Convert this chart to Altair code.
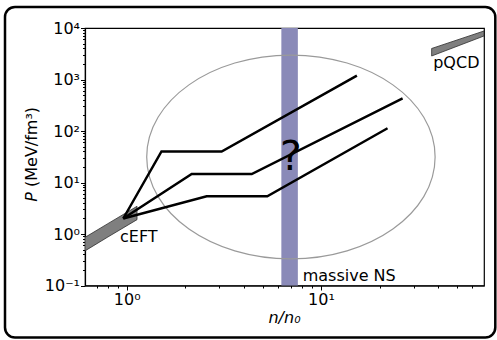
import altair as alt
import pandas as pd

# Equation-of-state scenarios: knots in density (n/n0) and pressure (MeV/fm^3)
eos_names = ["stiff", "intermediate", "soft"]
eos_n = [
    [0.96, 1.51, 3.08, 15.3],
    [0.96, 2.16, 4.4, 26.3],
    [0.96, 2.58, 5.29, 22.0],
]
eos_p = [
    [2.0, 40.0, 40.0, 1190.0],
    [2.0, 14.6, 14.6, 431.0],
    [2.0, 5.4, 5.4, 113.0],
]

# chiral EFT band at low density
ceft_n = [0.61, 0.8, 1.13]
ceft_lo = [0.47, 0.875, 1.9]
ceft_hi = [0.86, 1.59, 3.45]

# perturbative QCD band at high density
pqcd_n = [37.1, 69.0]
pqcd_lo = [2860, 7000]
pqcd_hi = [4000, 8750]

# central densities of the heaviest neutron stars
ns_band = [6.25, 7.6]

# centre of the "unknown" region
region_center = [7.0, 31.3]

# annotations
labels = ["cEFT", "pQCD", "massive NS"]
label_n = [0.924, 37.8, 8.05]
label_p = [0.69, 1650, 0.122]
question_n = [7.0]
question_p = [17.5]

W, H = 399, 257.5
FONT = "DejaVu Sans"

x_ticks = [0.7, 0.8, 0.9] + list(range(1, 10)) + [10, 20, 30, 40, 50, 60]
y_ticks = [round(k * 10.0 ** e, 6) for e in range(-1, 4) for k in range(1, 10)] + [10000]

x_scale = alt.Scale(type="log", domain=[0.61, 69.0], nice=False)
y_scale = alt.Scale(type="log", domain=[0.1, 10000], nice=False)

x_axis = alt.Axis(
    title=None, values=x_ticks, grid=False,
    labelExpr="datum.value == 1 ? '10⁰' : datum.value == 10 ? '10¹' : ''",
    tickSize={"condition": {"test": "indexof([1, 10], datum.value) >= 0", "value": 4.5}, "value": 2.5},
    labelPadding=1, labelBaseline="top",
)
y_axis = alt.Axis(
    title=None, values=y_ticks, grid=False,
    labelExpr=("datum.value == 10000 ? '10⁴' : datum.value == 1000 ? '10³' : "
               "datum.value == 100 ? '10²' : datum.value == 10 ? '10¹' : "
               "datum.value == 1 ? '10⁰' : datum.value == 0.1 ? '10⁻¹' : ''"),
    tickSize={"condition": {"test": "indexof([0.1, 1, 10, 100, 1000, 10000], datum.value) >= 0",
                            "value": 4.5}, "value": 2.5},
    labelPadding=1, labelBaseline="middle",
)


def X(field):
    return alt.X(field, type="quantitative", scale=x_scale, axis=x_axis)


def Y(field):
    return alt.Y(field, type="quantitative", scale=y_scale, axis=y_axis)


eos_rows = []
for name, ns, ps in zip(eos_names, eos_n, eos_p):
    for i, (n, p) in enumerate(zip(ns, ps)):
        eos_rows.append({"eos": name, "order": i, "n": n, "P": p})
eos_df = pd.DataFrame(eos_rows)

ceft_df = pd.DataFrame({"n": ceft_n, "P": ceft_lo, "P2": ceft_hi})
pqcd_df = pd.DataFrame({"n": pqcd_n, "P": pqcd_lo, "P2": pqcd_hi})
band_df = pd.DataFrame({"n": [ns_band[0]], "n2": [ns_band[1]]})
region_df = pd.DataFrame({"n": [region_center[0]], "P": [region_center[1]]})
label_df = pd.DataFrame({"n": label_n, "P": label_p, "text": labels})
q_df = pd.DataFrame({"n": question_n, "P": question_p, "text": ["?"]})

band = alt.Chart(band_df).mark_rect(color="#8a8ab8").encode(x=X("n"), x2="n2")

# ellipse outline as a custom symbol (unit path, aspect ~0.707)
ellipse_path = (
    "M 1 0 C 1 0.3906 0.5523 0.707 0 0.707 C -0.5523 0.707 -1 0.3906 -1 0 "
    "C -1 -0.3906 -0.5523 -0.707 0 -0.707 C 0.5523 -0.707 1 -0.3906 1 0 Z"
)
region = alt.Chart(region_df).mark_point(
    shape=ellipse_path, size=83174, filled=False, stroke="#9a9a9a", strokeWidth=1.2, opacity=1
).encode(x=X("n"), y=Y("P"))

ceft = alt.Chart(ceft_df).mark_area(
    fill="#7f7f7f", stroke="#303030", strokeWidth=0.8, clip=True
).encode(x=X("n"), y=Y("P"), y2="P2")

pqcd = alt.Chart(pqcd_df).mark_area(
    fill="#7f7f7f", stroke="#303030", strokeWidth=0.8, clip=True
).encode(x=X("n"), y=Y("P"), y2="P2")

lines = alt.Chart(eos_df).mark_line(color="black", strokeWidth=2.5, clip=True).encode(
    x=X("n"), y=Y("P"), detail="eos:N", order="order:Q"
)

text = alt.Chart(label_df).mark_text(
    font=FONT, fontSize=16, color="black", align="left", baseline="alphabetic"
).encode(x=X("n"), y=Y("P"), text="text:N")

question = alt.Chart(q_df).mark_text(
    font=FONT, fontSize=41, color="black", align="center", baseline="alphabetic"
).encode(x=X("n"), y=Y("P"), text="text:N")

one = pd.DataFrame({"t": [""]})
y_title_p = alt.Chart(pd.DataFrame({"t": ["P"]})).mark_text(
    font=FONT, fontSize=16, fontStyle="italic", angle=270, align="left", baseline="alphabetic",
    color="black"
).encode(x=alt.value(-48.3), y=alt.value(173.7), text="t:N")
y_title_rest = alt.Chart(pd.DataFrame({"t": ["(MeV/fm³)"]})).mark_text(
    font=FONT, fontSize=16, angle=270, align="left", baseline="alphabetic", color="black"
).encode(x=alt.value(-48.3), y=alt.value(159), text="t:N")
x_title = alt.Chart(pd.DataFrame({"t": ["n/n₀"]})).mark_text(
    font=FONT, fontSize=16, fontStyle="italic", align="center", baseline="alphabetic",
    color="black"
).encode(x=alt.value(W / 2), y=alt.value(295), text="t:N")

frame = alt.Chart(one).mark_rect(
    filled=False, stroke="black", strokeWidth=2.5, cornerRadius=10
).encode(x=alt.value(-80), x2=alt.value(410.3), y=alt.value(-21), y2=alt.value(309.5))

chart = alt.layer(
    band, region, ceft, pqcd, lines, text, question, y_title_p, y_title_rest, x_title, frame
).properties(
    width=W, height=H,
    autosize=alt.AutoSizeParams(type="none"),
    padding={"left": 85, "top": 28, "right": 13, "bottom": 54},
    background="white",
).configure_view(
    stroke="black", strokeWidth=1.2
).configure_axis(
    labelFont=FONT, labelFontSize=16, labelColor="black",
    tickColor="black", tickWidth=1, domainColor="black", domainWidth=1.2,
)

chart.save("out.html", embed_options={"renderer": "svg", "actions": False})
